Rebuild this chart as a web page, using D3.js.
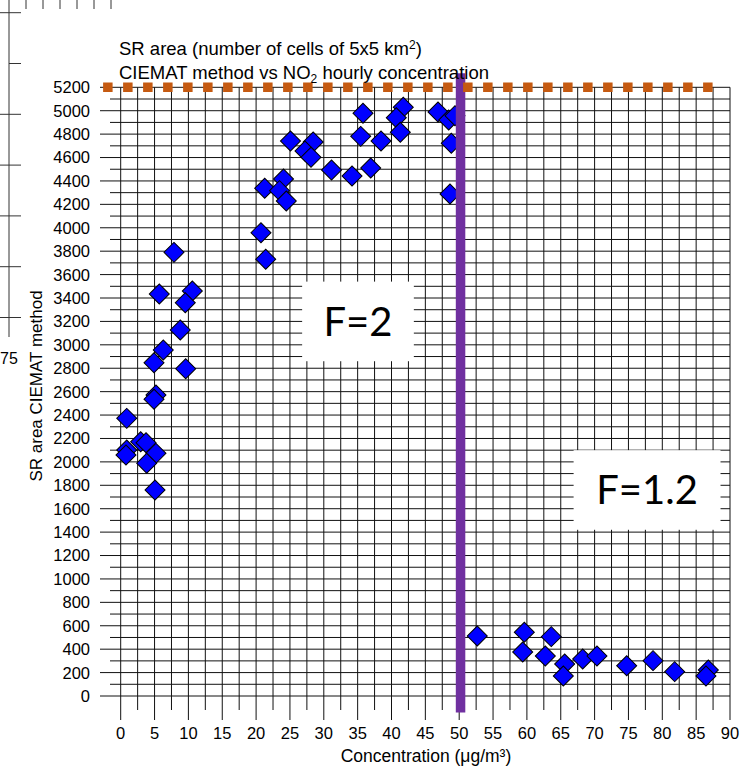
<!DOCTYPE html>
<html><head><meta charset="utf-8">
<script src="https://cdn.jsdelivr.net/npm/d3@7"></script>
<style>body{margin:0;background:#fff}svg{display:block}</style>
</head><body>
<svg id="chart" width="743" height="771"></svg>
<script>
// ---- data ----
const concentration = [7.87,5.70,10.58,9.54,8.80,6.29,4.92,9.60,5.21,4.92,0.89,2.95,3.74,0.89,0.78,5.21,3.84,5.07,
  21.27,24.05,23.46,24.46,20.72,21.42,25.08,28.43,27.22,28.11,31.14,34.17,36.93,35.79,35.45,38.45,41.74,40.71,41.30,46.87,48.45,49.38,48.83,48.64,
  52.67,59.62,59.38,63.6,62.72,65.58,65.38,68.24,70.35,74.74,78.63,81.83,86.8,86.45];
const srArea = [3790,3434,3460,3360,3127,2956,2847,2796,2572,2535,2372,2172,2164,2102,2059,2073,1988,1760,
  4337,4417,4317,4229,3958,3731,4741,4733,4656,4602,4494,4442,4511,4978,4781,4741,5029,4940,4816,4989,4921,4957,4722,4288,
  513,544,376,507,342,273,171,316,342,259,302,208,222,171];
const xTicks = d3.range(0, 91, 5);
const yTicks = d3.range(0, 5201, 200);
const limitLineX = [-2.6, 88.9];
const limitLineY = [5200, 5200];
const splitLineX = [50.2, 50.2];
const splitLineY = [5320, -140];
const regionLabels = ["F=2", "F=1.2"];
const titleLines = ["SR area (number of cells of 5x5 km", "CIEMAT method vs NO", " hourly concentration"];
const yTitle = "SR area CIEMAT method";
const xTitle = "Concentration (μg/m³)";

// ---- drawing ----
const svg = d3.select("#chart");
const x = d3.scaleLinear().domain([0, 90]).range([120.7, 730]);
const y = d3.scaleLinear().domain([0, 5200]).range([696, 87.3]);
const FONT = "'Liberation Sans', Arial, sans-serif";

// cropped neighbouring chart remnants (top-left)
const deco = svg.append("g").attr("stroke", "#333").attr("stroke-width", 1);
deco.append("line").attr("x1", 9).attr("x2", 9).attr("y1", 0).attr("y2", 337);
[12.7, 63.5, 114.3, 165.1, 215.9, 266.7, 317.5].forEach((v, i) =>
  deco.append("line").attr("x1", i === 1 ? 9 : 0).attr("x2", 21).attr("y1", v).attr("y2", v));
[26, 43, 60, 77, 94, 111].forEach(v =>
  deco.append("line").attr("x1", v).attr("x2", v).attr("y1", 0).attr("y2", 9));
svg.append("text").attr("x", 0).attr("y", 364).attr("font-family", FONT).attr("font-size", 16).text("75");

// grid
const grid = svg.append("g").attr("stroke", "#111").attr("stroke-width", 1);
d3.range(0, 90.01, 2.5).forEach(v => {
  const major = Math.abs(v / 5 - Math.round(v / 5)) < 1e-6;
  grid.append("line").attr("x1", x(v)).attr("x2", x(v))
    .attr("y1", y(5200)).attr("y2", y(0) + (major ? 24 : 14));
});
d3.range(0, 5201, 100).forEach(v => {
  const major = v % 200 === 0;
  grid.append("line").attr("x1", major ? 100 : 110).attr("x2", x(90))
    .attr("y1", y(v)).attr("y2", y(v));
});

// tick labels
svg.append("g").selectAll("text").data(yTicks).join("text")
  .attr("x", 90).attr("y", d => y(d)).attr("dy", "0.36em")
  .attr("text-anchor", "end").attr("font-family", FONT).attr("font-size", 16.5).attr("fill", "#000")
  .text(d => d);
svg.append("g").selectAll("text").data(xTicks).join("text")
  .attr("x", d => x(d)).attr("y", 739)
  .attr("text-anchor", "middle").attr("font-family", FONT).attr("font-size", 16.5).attr("fill", "#000")
  .text(d => d);

// points
const pts = concentration.map((c, i) => ({ c, s: srArea[i] }));
svg.append("g").selectAll("path").data(pts).join("path")
  .attr("d", d3.symbol().type(d3.symbolSquare).size(200))
  .attr("transform", d => `translate(${x(d.c)},${y(d.s)}) rotate(45)`)
  .attr("fill", "#0000FF").attr("stroke", "#000").attr("stroke-width", 1);

// split line (purple)
svg.append("line")
  .attr("x1", x(splitLineX[0])).attr("x2", x(splitLineX[1]))
  .attr("y1", y(splitLineY[0])).attr("y2", y(splitLineY[1]))
  .attr("stroke", "#7030A0").attr("stroke-width", 9.5);

// limit line (orange dashed)
svg.append("line")
  .attr("x1", x(limitLineX[0])).attr("x2", x(limitLineX[1]))
  .attr("y1", y(limitLineY[0])).attr("y2", y(limitLineY[1]))
  .attr("stroke", "#C55A11").attr("stroke-width", 9.5).attr("stroke-dasharray", "9.5,10.5");

// region label boxes
const boxes = [
  { label: regionLabels[0], x0: 26.8, x1: 43.3, y0: 3540, y1: 2860 },
  { label: regionLabels[1], x0: 66.9, x1: 88.6, y0: 2100, y1: 1420 }
];
boxes.forEach(b => {
  svg.append("rect").attr("x", x(b.x0)).attr("y", y(b.y0))
    .attr("width", x(b.x1) - x(b.x0)).attr("height", y(b.y1) - y(b.y0)).attr("fill", "#fff");
  svg.append("text").attr("x", (x(b.x0) + x(b.x1)) / 2).attr("y", (y(b.y0) + y(b.y1)) / 2 + 14.5)
    .attr("text-anchor", "middle").attr("font-family", "Lato, 'Open Sans', sans-serif")
    .attr("font-size", 40).attr("fill", "#000").text(b.label);
});

// titles
const t1 = svg.append("text").attr("x", 119).attr("y", 55).attr("font-family", FONT).attr("font-size", 18.5).attr("fill", "#000");
t1.append("tspan").text(titleLines[0]);
t1.append("tspan").attr("font-size", 12).attr("dy", -6).text("2");
t1.append("tspan").attr("dy", 6).text(")");
const t2 = svg.append("text").attr("x", 119).attr("y", 79).attr("font-family", FONT).attr("font-size", 18.5).attr("fill", "#000");
t2.append("tspan").text(titleLines[1]);
t2.append("tspan").attr("font-size", 12).attr("dy", 4).text("2");
t2.append("tspan").attr("dy", -4).text(titleLines[2]);

svg.append("text").attr("transform", "translate(42,386) rotate(-90)")
  .attr("text-anchor", "middle").attr("font-family", FONT).attr("font-size", 17).attr("fill", "#000").text(yTitle);
svg.append("text").attr("x", 426).attr("y", 762)
  .attr("text-anchor", "middle").attr("font-family", FONT).attr("font-size", 17.5).attr("fill", "#000").text(xTitle);
</script>
</body></html>
